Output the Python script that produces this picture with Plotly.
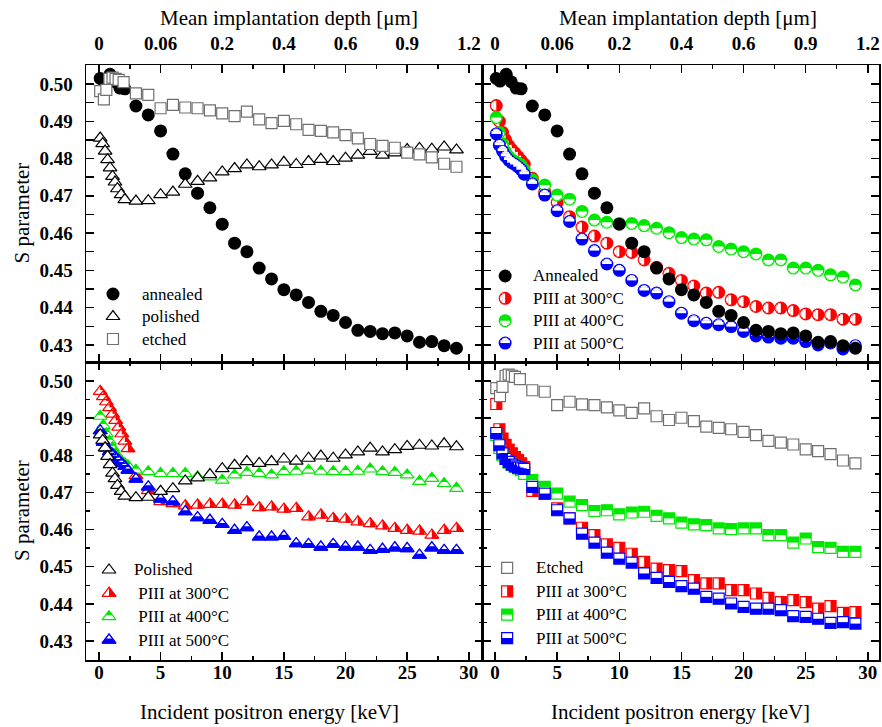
import plotly.graph_objects as go

# ---------------- data ----------------
E_ANNEALED = [0.1, 0.4, 0.9, 1.3, 1.7, 2.1, 3, 4, 5, 6, 7, 8, 9, 10, 11, 12, 13, 14, 15, 16,
              17, 18, 19, 20, 21, 22, 23, 24, 25, 26, 27, 28, 29]
S_ANNEALED = [0.5015, 0.5008, 0.5026, 0.5006, 0.4989, 0.4987,
              0.4941, 0.4917, 0.4874, 0.4812, 0.4759, 0.4707, 0.4668, 0.4624, 0.4573, 0.4550,
              0.4506, 0.4477, 0.4448, 0.4434, 0.4414, 0.4390, 0.4379, 0.4360, 0.4339, 0.4336,
              0.4330, 0.4332, 0.4324, 0.4307, 0.4309, 0.4298, 0.4291]

E_ETCHED = [0.1, 0.4, 0.6, 0.85, 1.1, 1.35, 1.6, 2.0, 3, 4, 5, 6, 7, 8, 9, 10, 11, 12, 13, 14,
            15, 16, 17, 18, 19, 20, 21, 22, 23, 24, 25, 26, 27, 28, 29]
S_ETCHED = [0.4981, 0.4959, 0.4984, 0.5014, 0.5017, 0.5014, 0.5011, 0.5005,
            0.4975, 0.4971, 0.4935, 0.4944, 0.4937, 0.4935, 0.4929, 0.4921, 0.4914, 0.4926,
            0.4905, 0.4895, 0.4901, 0.4892, 0.4877, 0.4874, 0.4870, 0.4863, 0.4854, 0.4839,
            0.4834, 0.4829, 0.4816, 0.4811, 0.4803, 0.4786, 0.4778]

E_POLISHED = [0.1, 0.3, 0.5, 0.7, 0.9, 1.1, 1.3, 1.5, 1.8, 2.1, 3, 4, 5, 6, 7, 8, 9, 10, 11,
              12, 13, 14, 15, 16, 17, 18, 19, 20, 21, 22, 23, 24, 25, 26, 27, 28, 29]
S_POLISHED = [0.4855, 0.4840, 0.4820, 0.4797, 0.4775, 0.4752, 0.4737, 0.4719, 0.4703, 0.4690,
              0.4686, 0.4687, 0.4703, 0.4710, 0.4731, 0.4739, 0.4748, 0.4764, 0.4773, 0.4783,
              0.4778, 0.4783, 0.4790, 0.4784, 0.4792, 0.4798, 0.4792, 0.4801, 0.4809, 0.4819,
              0.4809, 0.4815, 0.4824, 0.4827, 0.4825, 0.4831, 0.4823]

E_PIII = [0.1, 0.35, 0.6, 0.85, 1.1, 1.35, 1.6, 1.85, 2.1, 2.35, 3, 4, 5, 6, 7, 8, 9, 10, 11,
          12, 13, 14, 15, 16, 17, 18, 19, 20, 21, 22, 23, 24, 25, 26, 27, 28, 29]
# annealed + PIII samples (circles, top right)
S_ANN_PIII300 = [0.4942, 0.4900, 0.4870, 0.4850, 0.4835, 0.4824, 0.4815, 0.4805, 0.4795, 0.4785,
                 0.4747, 0.4711, 0.4682, 0.4644, 0.4616, 0.4592, 0.4573, 0.4550, 0.4548, 0.4528,
                 0.4508, 0.4492, 0.4473, 0.4458, 0.4439, 0.4441, 0.4421, 0.4416, 0.4403, 0.4399,
                 0.4399, 0.4392, 0.4383, 0.4381, 0.4381, 0.4369, 0.4369]
S_ANN_PIII400 = [0.4910, 0.4870, 0.4840, 0.4818, 0.4805, 0.4797, 0.4792, 0.4788, 0.4782, 0.4770,
                 0.4743, 0.4729, 0.4702, 0.4691, 0.4658, 0.4635, 0.4629, 0.4626, 0.4626, 0.4620,
                 0.4613, 0.4601, 0.4588, 0.4584, 0.4582, 0.4564, 0.4557, 0.4550, 0.4544, 0.4528,
                 0.4528, 0.4506, 0.4506, 0.4500, 0.4488, 0.4482, 0.4461]
S_ANN_PIII500 = [0.4866, 0.4836, 0.4820, 0.4806, 0.4796, 0.4789, 0.4784, 0.4778, 0.4770, 0.4758,
                 0.4732, 0.4702, 0.4660, 0.4631, 0.4584, 0.4553, 0.4517, 0.4500, 0.4473, 0.4446,
                 0.4439, 0.4416, 0.4385, 0.4365, 0.4358, 0.4354, 0.4349, 0.4336, 0.4324, 0.4321,
                 0.4318, 0.4318, 0.4309, 0.4300, 0.4305, 0.4289, 0.4298]
# polished + PIII samples (triangles, bottom left)
S_POL_PIII300 = [0.4972, 0.4958, 0.4944, 0.4928, 0.4911, 0.4894, 0.4876, 0.4858, 0.4838, 0.4818,
                 0.4745, 0.4705, 0.4675, 0.4670, 0.4664, 0.4666, 0.4668, 0.4668, 0.4666, 0.4675,
                 0.4659, 0.4661, 0.4655, 0.4657, 0.4634, 0.4639, 0.4630, 0.4628, 0.4621, 0.4616,
                 0.4610, 0.4603, 0.4598, 0.4596, 0.4585, 0.4598, 0.4603]
S_POL_PIII400 = [0.4905, 0.4880, 0.4858, 0.4838, 0.4820, 0.4805, 0.4792, 0.4783, 0.4777, 0.4772,
                 0.4760, 0.4756, 0.4751, 0.4751, 0.4751, 0.4742, 0.4742, 0.4733, 0.4747, 0.4754,
                 0.4751, 0.4747, 0.4756, 0.4757, 0.4760, 0.4757, 0.4756, 0.4756, 0.4757, 0.4763,
                 0.4756, 0.4754, 0.4747, 0.4730, 0.4738, 0.4724, 0.4711]
S_POL_PIII500 = [0.4866, 0.4835, 0.4820, 0.4810, 0.4803, 0.4795, 0.4786, 0.4778, 0.4770, 0.4760,
                 0.4736, 0.4715, 0.4682, 0.4675, 0.4648, 0.4632, 0.4625, 0.4614, 0.4598, 0.4605,
                 0.4580, 0.4580, 0.4582, 0.4562, 0.4560, 0.4553, 0.4560, 0.4553, 0.4553, 0.4544,
                 0.4547, 0.4551, 0.4549, 0.4531, 0.4551, 0.4544, 0.4544]
# etched + PIII samples (squares, bottom right)
S_ETC_PIII300 = [0.4938, 0.4870, 0.4845, 0.4828, 0.4815, 0.4805, 0.4795, 0.4787, 0.4778, 0.4768,
                 0.4704, 0.4697, 0.4657, 0.4630, 0.4605, 0.4585, 0.4560, 0.4551, 0.4535, 0.4513,
                 0.4495, 0.4491, 0.4488, 0.4464, 0.4455, 0.4455, 0.4437, 0.4437, 0.4428, 0.4416,
                 0.4405, 0.4410, 0.4405, 0.4387, 0.4394, 0.4376, 0.4378]
S_ETC_PIII400 = [0.4855, 0.4820, 0.4800, 0.4790, 0.4780, 0.4775, 0.4770, 0.4765, 0.4760, 0.4750,
                 0.4733, 0.4715, 0.4697, 0.4675, 0.4666, 0.4650, 0.4652, 0.4641, 0.4646, 0.4648,
                 0.4637, 0.4630, 0.4619, 0.4614, 0.4612, 0.4603, 0.4601, 0.4603, 0.4603, 0.4585,
                 0.4585, 0.4565, 0.4576, 0.4553, 0.4551, 0.4540, 0.4540]
S_ETC_PIII500 = [0.4860, 0.4827, 0.4805, 0.4790, 0.4782, 0.4775, 0.4770, 0.4767, 0.4765, 0.4763,
                 0.4715, 0.4697, 0.4652, 0.4630, 0.4589, 0.4565, 0.4538, 0.4522, 0.4511, 0.4482,
                 0.4470, 0.4459, 0.4448, 0.4441, 0.4419, 0.4414, 0.4401, 0.4392, 0.4387, 0.4387,
                 0.4383, 0.4367, 0.4365, 0.4360, 0.4349, 0.4351, 0.4347]

# axis tick labels
ENERGY_TICKS = [0, 5, 10, 15, 20, 25, 30]
DEPTH_LABELS = ["0", "0.06", "0.2", "0.4", "0.6", "0.9", "1.2"]

LEG_TL = ["annealed", "polished", "etched"]
LEG_TR = ["Annealed", "PIII at 300°C", "PIII at 400°C", "PIII at 500°C"]
LEG_BL = ["Polished", " PIII at 300°C", " PIII at 400°C", " PIII at 500°C"]
LEG_BR = ["Etched", "PIII at 300°C", "PIII at 400°C", "PIII at 500°C"]

# ---------------- styling ----------------
FONT = "Liberation Serif"
RED, GREEN, BLUE, GREY = "#ff0000", "#00e800", "#0000ff", "#707070"
SZ_CIRC, SZ_TRI, SZ_SQ = 13, 12, 11
LW = 1.2

fig = go.Figure()

# direction -> marker angle used to push a bar marker away from the point
DIR_ANGLE = {"down": 0, "up": 180, "left": 90, "right": 270}


def bar(base, color, direction, d0, d1, half_len):
    """A filled rectangle drawn with a thick 'line-ew' marker: it spans d0..d1 px away from the
    point in `direction` and +-half_len px across."""
    fig.add_trace(go.Scatter(**base, marker=dict(
        symbol="line-ew", size=2 * half_len / 1.4, color=color, angle=DIR_ANGLE[direction],
        standoff=(d0 + d1) / 2, line=dict(color=color, width=d1 - d0))))


def add_series(style, color, x, y, xa, ya, clip=True):
    base = dict(x=x, y=y, xaxis=xa, yaxis=ya, mode="markers", showlegend=False,
                hoverinfo="skip", cliponaxis=clip)
    kind = style.split(":")[0]
    if kind == "dot":
        fig.add_trace(go.Scatter(**base, marker=dict(symbol="circle", size=SZ_CIRC, color=color,
                                                      line=dict(width=0))))
    elif kind == "tri_open":
        fig.add_trace(go.Scatter(**base, marker=dict(symbol="triangle-up", size=SZ_TRI, color="white",
                                                      line=dict(color=color, width=LW))))
    elif kind == "sq_open":
        fig.add_trace(go.Scatter(**base, marker=dict(symbol="square", size=SZ_SQ, color="white",
                                                      line=dict(color=color, width=LW))))
    elif kind == "circ_half":
        # coloured disc, then the white half (opposite to the coloured one) as stacked bars
        white_side = style.split(":")[1]
        fig.add_trace(go.Scatter(**base, marker=dict(symbol="circle", size=SZ_CIRC, color=color,
                                                      line=dict(width=0))))
        ri = SZ_CIRC / 2 - 1.0
        for f0, f1, hw in ((0.0, 0.52, 0.866), (0.47, 0.80, 0.60), (0.76, 0.95, 0.33)):
            bar(base, "white", white_side, f0 * ri, f1 * ri, hw * ri)
    elif kind == "tri_top":
        r = SZ_TRI / 2
        fig.add_trace(go.Scatter(**base, marker=dict(symbol="triangle-up", size=SZ_TRI, color="white",
                                                      line=dict(color=color, width=LW))))
        fig.add_trace(go.Scatter(**base, marker=dict(symbol="triangle-down", size=SZ_TRI / 2, color=color,
                                                      angle=180, standoff=r / 2, line=dict(width=0))))
    elif kind == "tri_bottom":
        r = SZ_TRI / 2
        fig.add_trace(go.Scatter(**base, marker=dict(symbol="triangle-up", size=SZ_TRI, color=color,
                                                      line=dict(color=color, width=LW))))
        fig.add_trace(go.Scatter(**base, marker=dict(symbol="triangle-down", size=SZ_TRI / 2, color="white",
                                                      angle=180, standoff=r / 2, line=dict(width=0))))
        fig.add_trace(go.Scatter(**base, marker=dict(symbol="triangle-up-open", size=SZ_TRI, color=color,
                                                      line=dict(color=color, width=LW))))
    elif kind == "tri_right":
        r = SZ_TRI / 2
        fig.add_trace(go.Scatter(**base, marker=dict(symbol="triangle-up", size=SZ_TRI, color=color,
                                                      line=dict(color=color, width=LW))))
        bar(base, "white", "left", 0.0, 1.155 * r + 0.6, r + 0.6)
        fig.add_trace(go.Scatter(**base, marker=dict(symbol="triangle-up-open", size=SZ_TRI, color=color,
                                                      line=dict(color=color, width=LW))))
    elif kind == "sq_half":
        side = style.split(":")[1]
        r = SZ_SQ / 2
        fig.add_trace(go.Scatter(**base, marker=dict(symbol="square", size=SZ_SQ, color="white",
                                                      line=dict(color=color, width=LW))))
        bar(base, color, side, 0.0, r, r)


XB, YB = 0.5006, 0.5008
PANELS = [
    # name, axis number, x domain, y domain, x range, y range
    ("TL", 1, [0, XB], [YB, 1], [-1.05, 31.15], [0.4254, 0.5051]),
    ("TR", 2, [XB, 1], [YB, 1], [-0.97, 30.9], [0.4254, 0.5051]),
    ("BL", 3, [0, XB], [0, YB], [-1.05, 31.15], [0.4249, 0.5051]),
    ("BR", 4, [XB, 1], [0, YB], [-0.97, 30.9], [0.4249, 0.5051]),
]

SERIES = {
    "TL": [("dot", "black", E_ANNEALED, S_ANNEALED),
           ("tri_open", "black", E_POLISHED, S_POLISHED),
           ("sq_open", GREY, E_ETCHED, S_ETCHED)],
    "TR": [("circ_half:left", RED, E_PIII, S_ANN_PIII300),
           ("circ_half:down", GREEN, E_PIII, S_ANN_PIII400),
           ("circ_half:up", BLUE, E_PIII, S_ANN_PIII500),
           ("dot", "black", E_ANNEALED, S_ANNEALED)],
    "BL": [("tri_right", RED, E_PIII, S_POL_PIII300),
           ("tri_top", GREEN, E_PIII, S_POL_PIII400),
           ("tri_bottom", BLUE, E_PIII, S_POL_PIII500),
           ("tri_open", "black", E_POLISHED, S_POLISHED)],
    "BR": [("sq_half:right", RED, E_PIII, S_ETC_PIII300),
           ("sq_half:up", GREEN, E_PIII, S_ETC_PIII400),
           ("sq_half:down", BLUE, E_PIII, S_ETC_PIII500),
           ("sq_open", GREY, E_ETCHED, S_ETCHED)],
}
# legend entries: labels, series order, legend y-domain, symbol x / text x (fraction of panel)
LEGENDS = {
    "TL": (LEG_TL, [0, 1, 2], [0.5206, 0.6340], 0.068, 0.135),
    "TR": (LEG_TR, [3, 0, 1, 2], [0.5139, 0.6642], 0.056, 0.122),
    "BL": (LEG_BL, [3, 0, 1, 2], [0.0139, 0.1709], 0.058, 0.115),
    "BR": (LEG_BR, [3, 0, 1, 2], [0.0173, 0.1743], 0.061, 0.128),
}

TICKFONT = dict(family=FONT, size=19, color="black", weight="bold")
layout = {}
annotations = []
for name, n, xd, yd, xr, yr in PANELS:
    xa = "x" if n == 1 else "x%d" % n
    ya = "y" if n == 1 else "y%d" % n
    bottom = name in ("BL", "BR")
    left = name in ("TL", "BL")
    layout["xaxis" if n == 1 else "xaxis%d" % n] = dict(
        domain=xd, range=xr, anchor=ya, showgrid=False, zeroline=False,
        showline=True, linecolor="black", linewidth=1.5, mirror="allticks",
        ticks="inside", ticklen=8, tickwidth=1.5, tickcolor="black",
        tickmode="array", tickvals=ENERGY_TICKS, ticktext=[str(v) for v in ENERGY_TICKS],
        showticklabels=bottom, tickfont=TICKFONT, ticklabelstandoff=-5,
        minor=dict(ticks="inside", ticklen=4, tickwidth=1.5, tickcolor="black", dtick=2.5, tick0=0,
                   showgrid=False),
    )
    layout["yaxis" if n == 1 else "yaxis%d" % n] = dict(
        domain=yd, range=yr, anchor=xa, showgrid=False, zeroline=False,
        showline=True, linecolor="black", linewidth=1.5, mirror="allticks",
        ticks="inside", ticklen=8, tickwidth=1.5, tickcolor="black",
        dtick=0.01, tick0=0.43, tickformat=".2f",
        showticklabels=left, tickfont=TICKFONT, ticklabelstandoff=8,
        minor=dict(ticks="inside", ticklen=4, tickwidth=1.5, tickcolor="black", dtick=0.005, tick0=0.43,
                   showgrid=False),
    )
    for style, color, xs, ys in SERIES[name]:
        add_series(style, color, xs, ys, xa, ya)

    # legend drawn on its own hidden (transparent) axes
    labels, order, lyd, symx, txtx = LEGENDS[name]
    ln = 6 + n
    lxa, lya = "x%d" % ln, "y%d" % ln
    layout["xaxis%d" % ln] = dict(domain=xd, range=[0, 1], anchor=lya, visible=False, fixedrange=True)
    layout["yaxis%d" % ln] = dict(domain=lyd, type="category", categoryorder="array",
                                  categoryarray=labels, range=[len(labels) - 0.5, -0.5],
                                  anchor=lxa, visible=False, fixedrange=True)
    for lab, si in zip(labels, order):
        style, color, _, _ = SERIES[name][si]
        add_series(style, color, [symx], [lab], lxa, lya, clip=False)
        annotations.append(dict(x=txtx, y=lab, xref=lxa, yref=lya, text=lab, showarrow=False,
                                xanchor="left", yanchor="middle",
                                font=dict(family=FONT, size=17, color="black")))

# top axes: mean implantation depth labels
for n, basex, basey in ((5, "x", "y"), (6, "x2", "y2")):
    layout["xaxis%d" % n] = dict(
        overlaying=basex, anchor=basey, side="top",
        range=layout["xaxis" if basex == "x" else "xaxis2"]["range"],
        tickmode="array", tickvals=ENERGY_TICKS, ticktext=DEPTH_LABELS,
        ticks="", showline=False, showgrid=False, zeroline=False,
        tickfont=TICKFONT, ticklabelstandoff=10,
    )
    fig.add_trace(go.Scatter(x=[None], y=[None], xaxis="x%d" % n, yaxis=basey,
                             showlegend=False, hoverinfo="skip"))

TITLE_FONT = dict(family=FONT, size=21, color="black")
for xc in (0.2554, 0.759):
    annotations.append(dict(text="Mean implantation depth [\u03bcm]", x=xc, y=1.079, xref="paper",
                            yref="paper", showarrow=False, xanchor="center", yanchor="middle",
                            font=TITLE_FONT))
for xc in (0.232, 0.7503):
    annotations.append(dict(text="Incident positron energy [keV]", x=xc, y=-0.0874, xref="paper",
                            yref="paper", showarrow=False, xanchor="center", yanchor="middle",
                            font=TITLE_FONT))
for yref in ("y domain", "y3 domain"):
    annotations.append(dict(text="S parameter", x=-0.0807, y=0.5, xref="paper", yref=yref,
                            showarrow=False, xanchor="center", yanchor="middle", textangle=-90,
                            font=TITLE_FONT))

fig.update_layout(
    width=882, height=727,
    margin=dict(l=86, r=3, t=65, b=67, autoexpand=False),
    paper_bgcolor="white", plot_bgcolor="rgba(0,0,0,0)",
    showlegend=False,
    font=dict(family=FONT, color="black"),
    annotations=annotations,
    **layout,
)

fig.write_html("out.html", config={"displayModeBar": False, "staticPlot": True},
               post_script="document.body.style.margin='0';document.body.style.overflow='hidden';")
